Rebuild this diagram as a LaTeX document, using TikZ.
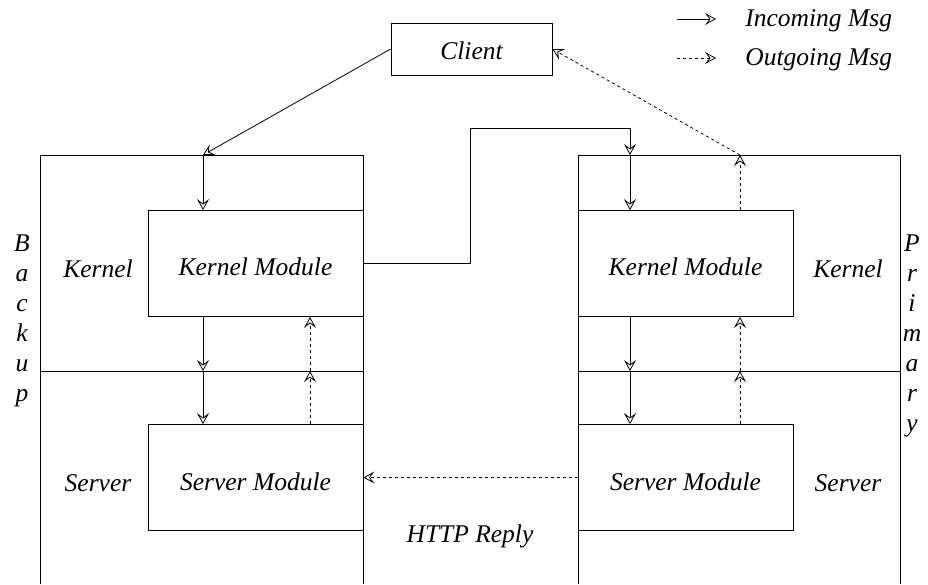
\documentclass[tikz,border=0pt]{standalone}
\usepackage{fontspec}
\setmainfont{Liberation Serif}
\usetikzlibrary{arrows.meta,calc}
\begin{document}
\begin{tikzpicture}[x=1pt,y=-1pt, line width=0.8pt,
  every node/.style={font=\fontsize{25.5}{28}\selectfont\itshape, inner sep=0pt},
  modbox/.style={draw, rectangle, minimum width=215pt, minimum height=106pt},
  arr/.style={-{Stealth[open,length=11pt,width=12pt,inset=4.5pt]}},
  dsh/.style={arr, dash pattern=on 3pt off 3pt}]
\useasboundingbox (0,0) rectangle (928,584);

% frames
\draw (40,584) -- (40,155) -- (363,155) -- (363,584);
\draw (578,584) -- (578,155) -- (900,155) -- (900,584);
\draw (40,371) -- (363,371);
\draw (578,371) -- (900,371);

% nodes
\node[draw, rectangle, minimum width=161pt, minimum height=52pt] (client) at (471.5,49) {\raisebox{-1.5pt}[\height][\depth]{Client}};
\node[modbox] (bkm) at (255.5,263.5) {\raisebox{-3.5pt}[\height][\depth]{Kernel Module}};
\node[modbox] (bsm) at (255.5,477.5) {\raisebox{-4pt}[\height][\depth]{Server Module}};
\node[modbox] (pkm) at (685.5,263.5) {\raisebox{-3.5pt}[\height][\depth]{Kernel Module}};
\node[modbox] (psm) at (685.5,477.5) {\raisebox{-4pt}[\height][\depth]{Server Module}};
\node (bk) at (98,268.5) {Kernel};
\node (bs) at (98,483) {Server};
\node (pk) at (848,268.5) {Kernel};
\node (ps) at (848,483) {Server};
\node (http) at (470,536) {HTTP Reply};

% vertical labels
\foreach \ch [count=\i from 0] in {B,a,c,k,u,p}
  \node[anchor=base] (backup\i) at (22,251+30*\i) {\ch};
\foreach \ch [count=\i from 0] in {P,r,i,m,a,r,y}
  \node[anchor=base] (primary\i) at (912,251+30*\i) {\ch};

% legend
\coordinate (l1s) at (677,19);
\coordinate (l1e) at (716,19);
\coordinate (l2s) at (677,58);
\coordinate (l2e) at (716,58);
\draw[arr] (l1s) -- (l1e);
\draw[dsh] (l2s) -- (l2e);
\node[anchor=west] (inmsg) at (745,21) {Incoming Msg};
\node[anchor=west] (outmsg) at (745,60) {Outgoing Msg};

% junction coordinates
\coordinate (bin) at (203,155);
\coordinate (bdiv) at (203,371);
\coordinate (bup) at (310,371);
\coordinate (bend) at (470,128);
\coordinate (pin) at (630,155);
\coordinate (pdiv) at (630,371);
\coordinate (pup) at (740,371);
\coordinate (pout) at (740,155);

% incoming
\draw[arr] (client.west) -- (bin);
\draw[arr] (bin) -- (bin |- bkm.north);
\draw[arr] (bin |- bkm.south) -- (bdiv);
\draw[arr] (bdiv) -- (bdiv |- bsm.north);
\draw[arr] (bkm.east) -| (bend) -| (pin);
\draw[arr] (pin) -- (pin |- pkm.north);
\draw[arr] (pin |- pkm.south) -- (pdiv);
\draw[arr] (pdiv) -- (pdiv |- psm.north);

% outgoing
\draw[dsh] (bup |- bsm.north) -- (bup);
\draw[dsh] (bup) -- (bup |- bkm.south);
\draw[dsh] (pup |- psm.north) -- (pup);
\draw[dsh] (pup) -- (pup |- pkm.south);
\draw[dsh] (pout |- pkm.north) -- (pout);
\draw[dsh] (pout) -- (client.east);
\draw[dsh] (psm.west) -- (bsm.east);
\end{tikzpicture}
\end{document}
